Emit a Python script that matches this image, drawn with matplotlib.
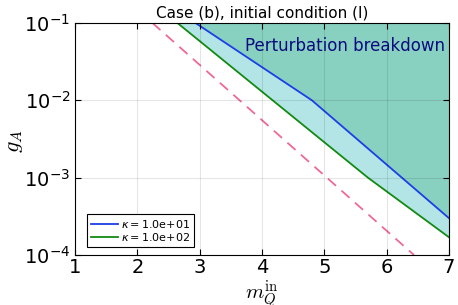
import matplotlib
matplotlib.use("Agg")
import matplotlib.pyplot as plt
import numpy as np

# curves (m_Q^in, g_A)
m_k1 = [2.93, 4.8, 7.0]
g_k1 = [1e-1, 1e-2, 3.0e-4]
m_k2 = [2.64, 5.7, 7.0]
g_k2 = [1e-1, 1.0e-3, 1.7e-4]
m_dash = [2.24, 6.44]
g_dash = [1e-1, 1e-4]
labels = [r"$\kappa=$1.0e+01", r"$\kappa=$1.0e+02"]

fig = plt.figure(figsize=(4.58, 3.05), dpi=100)
ax = fig.add_axes([0.164, 0.164, 0.816, 0.761])

x = np.linspace(1, 7, 601)
y1 = 10 ** np.interp(x, m_k1, np.log10(g_k1), left=0, right=np.log10(g_k1[-1]))
y2 = 10 ** np.interp(x, m_k2, np.log10(g_k2), left=0, right=np.log10(g_k2[-1]))

ax.fill_between(x, y1, 1, color="#88d1c0", lw=0)
ax.fill_between(x, y2, y1, color="#b3e5e6", lw=0)
ax.plot(m_k1, g_k1, color="#1a3fe6", lw=1.3, label=labels[0])
ax.plot(m_k2, g_k2, color="#138a13", lw=1.3, label=labels[1])
ax.plot(m_dash, g_dash, color="#ee6a94", lw=1.3, ls=(0, (6, 4)))

ax.set_yscale("log")
ax.set_xlim(1, 7)
ax.set_ylim(1e-4, 1e-1)
ax.set_xticks([1, 2, 3, 4, 5, 6, 7])
ax.minorticks_off()
ax.grid(True, color="black", alpha=0.1, lw=0.8)
ax.set_axisbelow(False)
ax.tick_params(direction="in", top=True, right=True, labelsize=14, length=4)
ax.tick_params(axis="x", pad=2.5)
ax.set_title("Case (b), initial condition (I)", fontsize=11, pad=4)
ax.set_xlabel(r"$m_Q^{\rm in}$", fontsize=15, math_fontfamily="cm")
ax.set_ylabel(r"$g_A$", fontsize=16, math_fontfamily="cm")
ax.xaxis.set_label_coords(0.5, -0.1)
ax.yaxis.set_label_coords(-0.135, 0.49)
ax.text(0.99, 0.9, "Perturbation breakdown", transform=ax.transAxes,
        ha="right", va="center", fontsize=12, color="#0a0a80")
leg = ax.legend(loc="lower left", fontsize=8, handlelength=2.4,
                fancybox=False, framealpha=1, edgecolor="black",
                borderaxespad=0, handletextpad=0.3, borderpad=0.35,
                labelspacing=0.1, bbox_to_anchor=(0.032, 0.034))
leg.get_frame().set_linewidth(0.8)

fig.savefig("out.png", dpi=100)
